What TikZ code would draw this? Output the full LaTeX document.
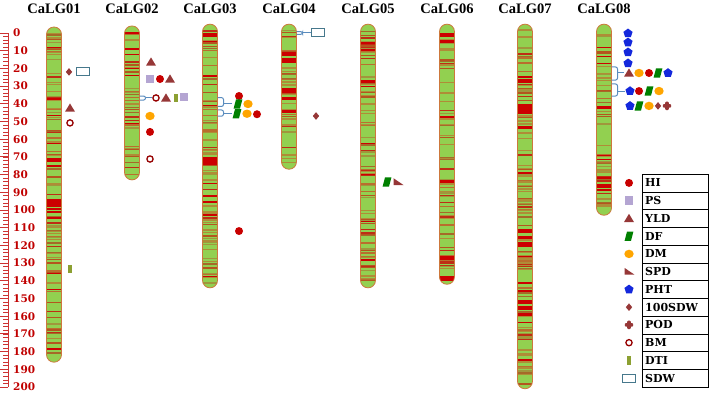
\documentclass[tikz,border=0pt]{standalone}
\usepackage{fontspec}
\setmainfont{Liberation Serif}
\newfontfamily\numfont{DejaVu Serif}
\usetikzlibrary{positioning}
\definecolor{chrgreen}{RGB}{146,208,80}
\definecolor{chredge}{RGB}{205,120,60}
\definecolor{bandc1}{RGB}{204,0,0}
\definecolor{bandc2}{RGB}{180,85,30}
\definecolor{bandc3}{RGB}{175,140,55}
\definecolor{bandc4}{RGB}{190,45,20}
\definecolor{bandc5}{RGB}{165,105,40}
\definecolor{bandc6}{RGB}{185,110,45}
\definecolor{bandc7}{RGB}{160,150,60}
\definecolor{rulered}{RGB}{205,50,50}
\definecolor{numred}{RGB}{192,0,0}
\definecolor{hicol}{RGB}{200,0,0}
\definecolor{pscol}{RGB}{180,165,210}
\definecolor{yldcol}{RGB}{150,55,55}
\definecolor{dfcol}{RGB}{0,128,0}
\definecolor{dmcol}{RGB}{255,165,0}
\definecolor{phtcol}{RGB}{20,40,220}
\definecolor{podcol}{RGB}{150,55,55}
\definecolor{dticol}{RGB}{140,160,50}
\definecolor{sdwcol}{RGB}{70,120,140}
\definecolor{brkcol}{RGB}{90,140,190}

\tikzset{
  hi/.pic={\fill[hicol] (0pt,0pt) circle (4pt);},
  ps/.pic={\fill[pscol] (-4.4pt,-4.4pt) rectangle (4.4pt,4.4pt);},
  yld/.pic={\fill[yldcol] (-5pt,-3.7pt) -- (5pt,-3.7pt) -- (0pt,4.6pt) -- cycle;},
  df/.pic={\fill[dfcol] (-4.4pt,-4.6pt) -- (2pt,-4.6pt) -- (4.4pt,4.6pt) -- (-2pt,4.6pt) -- cycle;},
  dm/.pic={\fill[dmcol] (0pt,0pt) ellipse (4.7pt and 4.2pt);},
  spd/.pic={\fill[yldcol] (-4.5pt,3.8pt) -- (-4.5pt,-3pt) -- (5.5pt,-3pt) -- cycle;},
  pht/.pic={\fill[phtcol] (90:4.8pt) -- (162:4.8pt) -- (234:4.8pt) -- (306:4.8pt) -- (18:4.8pt) -- cycle;},
  hsdw/.pic={\fill[podcol] (0pt,3.8pt) -- (3.2pt,0pt) -- (0pt,-3.8pt) -- (-3.2pt,0pt) -- cycle;},
  pod/.pic={\fill[podcol,rounded corners=1pt] (-4.2pt,-1.8pt) rectangle (4.2pt,1.8pt) (-1.8pt,-4.2pt) rectangle (1.8pt,4.2pt);},
  bm/.pic={\draw[hicol!75!black,line width=1.3pt] (0pt,0pt) circle (3.1pt);},
  dti/.pic={\fill[dticol] (-1.7pt,-4.2pt) rectangle (1.7pt,4.2pt);},
  sdw/.pic={\draw[sdwcol,line width=1pt,fill=white] (-6.5pt,-4pt) rectangle (6.5pt,4pt);}
}

\newcommand\lgchrom[7]{%
  \begin{scope}
    \clip[rounded corners=7.5pt] (#2-7.5,#3) rectangle (#2+7.5,#4);
    \fill[chrgreen] (#2-8,#3) rectangle (#2+8,#4);
    \pgfmathsetseed{#5}
    \foreach \k in {1,...,#6}{
      \pgfmathsetmacro\yy{(#3)+3+rnd*((#4)-(#3)-6)}
      \pgfmathrandominteger\cc{1}{9}
      \ifnum\cc>7 \def\cc{3}\fi
      \pgfmathsetmacro\hh{0.45+0.65*rnd}
      \fill[bandc\cc] (#2-8,\yy) rectangle (#2+8,\yy+\hh);
    }
    \foreach \a/\b in {#7} \fill[bandc1] (#2-8,\a) rectangle (#2+8,\b);
  \end{scope}
  \draw[chrline] (#2-7.5,#3) rectangle (#2+7.5,#4);
  \node[lgtitle] (#1) at (#2,-13.6) {Ca#1};
}
\newcommand\lgbrk[5]{%
  \draw[brk,rounded corners=2pt] (#1,#2) -- (#1+6,#2) -- (#1+6,#3) -- (#1,#3);
  \draw[brk] (#1+6,#4) -- (#5,#4);
}

\begin{document}
\begin{tikzpicture}[x=1pt,y=-1.77pt,
  chrline/.style={draw=chredge,line width=0.8pt,rounded corners=7.5pt},
  lgtitle/.style={font=\fontsize{14.5}{15}\selectfont\bfseries},
  rulenum/.style={anchor=west,text=numred,inner sep=0pt,font=\numfont\bfseries\fontsize{10.5}{11}\selectfont},
  legtext/.style={anchor=west,inner sep=0pt,font=\numfont\bfseries\fontsize{11}{12}\selectfont},
  brk/.style={draw=brkcol,line width=1pt}]
\useasboundingbox (0,-18.64) rectangle (709,203.4);
% scale bar
\draw[rulered,line width=0.8pt] (8,0) -- (8,200);
\foreach \t in {0,2,...,200} \draw[rulered,line width=0.7pt] (3,\t) -- (8,\t);
\foreach \t in {0,10,...,200}{
  \draw[rulered,line width=0.8pt] (0,\t) -- (8,\t);
  \node[rulenum] at (13,\t) {\t};
}
% linkage groups
\lgchrom{LG01}{54}{-3.4}{186}{11}{95}{36.5/37.6,70.8/73,93.8/98.3,98.9/99.8,100.8/101.6}
\lgchrom{LG02}{132}{-4}{83}{23}{48}{0/0}
\lgchrom{LG03}{210}{-5}{144}{37}{80}{0/2.3,70/74,84.5/85.5,95/96}
\lgchrom{LG04}{289}{-5}{77}{41}{40}{10.7/13,14/17,31/34,36/38,43.5/45.2}
\lgchrom{LG05}{368}{-5}{144}{53}{85}{26.5/28,5/6}
\lgchrom{LG06}{447}{-5}{142}{67}{68}{0/2.5,4/5.5,83/85,126/128,137.5/140}
\lgchrom{LG07}{525}{-5}{201}{79}{115}{26/28,40/45.5,52.5/54,111/113,114.5/116.5,118/121,140.5/142,145/146.5,151/153,154.5/156.5,158/160}
\lgchrom{LG08}{604}{-5}{103}{83}{52}{41.3/43,85.5/87,88/89}
% CaLG01
\pic at (69,22) {hsdw};
\pic at (83,22) {sdw};
\pic at (70,42.4) {yld};
\pic at (70,50.8) {bm};
\pic at (70,133.3) {dti};
% CaLG02
\pic at (151,16.4) {yld};
\pic at (150,26) {ps};
\pic at (160,26) {hi};
\pic at (170,26) {yld};
\lgbrk{139.5}{35.6}{37.9}{36.7}{152}
\pic at (156,36.7) {bm};
\pic at (166,36.7) {yld};
\pic at (176,36.7) {dti};
\pic at (184,36.2) {ps};
\pic at (150,46.9) {dm};
\pic at (150,55.9) {hi};
\pic at (150,71.2) {bm};
% CaLG03
\pic at (239,35.6) {hi};
\lgbrk{217.5}{36.5}{41.5}{40.1}{232}
\pic at (238,40.1) {df};
\pic at (248,40.1) {dm};
\lgbrk{217.5}{43.5}{47}{45.6}{232}
\pic at (237,45.6) {df};
\pic at (247,45.6) {dm};
\pic at (257,45.9) {hi};
\pic at (239,111.9) {hi};
% CaLG04
\lgbrk{296.5}{-0.8}{0.8}{0}{311.5}
\pic at (318,0) {sdw};
\pic at (316,46.9) {hsdw};
% CaLG05
\pic at (387,84.2) {df};
\pic at (398,84.2) {spd};
% CaLG08
\foreach \p in {0.2,5.3,10.9,17.1} \pic at (628,\p) {pht};
\lgbrk{611.5}{19.2}{26.6}{22.6}{624}
\pic at (629,22.6) {yld};
\pic at (639,22.6) {dm};
\pic at (649,22.6) {hi};
\pic at (658,22.6) {df};
\pic at (668,22.6) {pht};
\lgbrk{611.5}{28.8}{35.6}{32.8}{625}
\pic at (630,32.8) {pht};
\pic at (639,32.8) {hi};
\pic at (649,32.8) {df};
\pic at (659,32.8) {dm};
\pic at (630,41.2) {pht};
\pic at (639,41.2) {df};
\pic at (649,41.2) {dm};
\pic at (658,41.2) {hsdw};
\pic at (667,41.2) {pod};
% legend
\draw[line width=0.6pt] (642,79.7) rectangle (708,200.06);
\foreach \r in {1,...,11} \draw[line width=0.6pt] (642,79.7+10.03*\r) -- (708,79.7+10.03*\r);
\foreach \m/\lab [count=\i from 0] in {hi/HI,ps/PS,yld/YLD,df/DF,dm/DM,spd/SPD,pht/PHT,hsdw/100SDW,pod/POD,bm/BM,dti/DTI,sdw/SDW}{
  \pic at (629,{84.7+10.03*\i}) {\m};
  \node[legtext] (leg\i) at (645,{84.7+10.03*\i}) {\lab};
}
\end{tikzpicture}
\end{document}
